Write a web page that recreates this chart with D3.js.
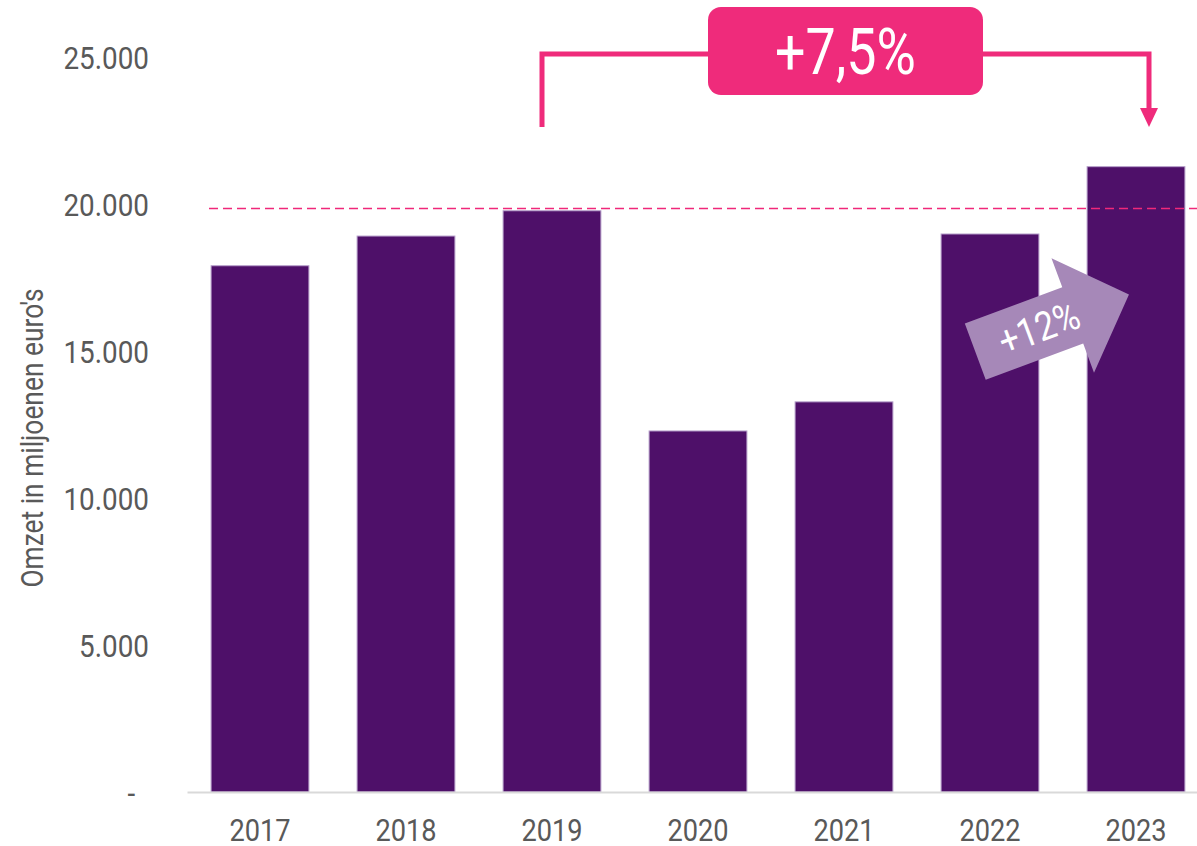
<!DOCTYPE html>
<html>
<head>
<meta charset="utf-8">
<script src="https://cdn.jsdelivr.net/npm/d3@7"></script>
<style>
  html, body { margin: 0; padding: 0; background: #fff; }
  svg { display: block; font-family: Roboto, "Noto Sans", sans-serif; }
</style>
</head>
<body>
<svg id="chart" width="1197" height="846"></svg>
<script>
// data
const years = ['2017', '2018', '2019', '2020', '2021', '2022', '2023'];
const omzet = [17900, 18910, 19770, 12280, 13270, 18980, 21270];
const yTicks = [0, 5000, 10000, 15000, 20000, 25000];
const refLevel = 19850;       // dashed line
const bracketLabel = '+7,5%'; // 2019 -> 2023
const arrowLabel = '+12%';    // 2022 -> 2023
const yTitle = "Omzet in miljoenen euro's";

const width = 1197,
	height = 846;

const nl = d3.formatLocale({ decimal: ',', thousands: '.', grouping: [3], currency: ['€', ''] });
const fmt = nl.format(',.0f');

const svg = d3.select('svg#chart');

const x = d3.scaleBand()
	.domain(years)
	.range([187, 1209])
	.paddingInner(0.33)
	.paddingOuter(0.165);

const y = d3.scaleLinear()
	.domain([0, 25000])
	.range([792, 57]);

// fake the condensed face: squeeze every text horizontally
function condense(sel, k) {
	sel.each(function() {
		const w = this.getComputedTextLength();
		if (w > 0)
			d3.select(this).attr('textLength', w * (k || 0.86)).attr('lengthAdjust', 'spacingAndGlyphs');
	});
}

// y axis, labels only
const yAxis = svg.append('g')
	.attr('transform', 'translate(149,0)')
	.call(d3.axisLeft(y).tickValues(yTicks).tickSize(0).tickPadding(0)
		.tickFormat(d => d === 0 ? '-  ' : fmt(d)));
yAxis.select('.domain').remove();
yAxis.selectAll('text')
	.attr('dy', '0.36em')
	.style('white-space', 'pre')
	.attr('font-family', 'Roboto')
	.attr('font-size', 32)
	.attr('fill', '#595959')
	.call(condense, 0.87);

// y title
svg.append('text')
	.attr('transform', 'translate(43,438) rotate(-90)')
	.attr('text-anchor', 'middle')
	.attr('font-size', 31)
	.attr('fill', '#595959')
	.text(yTitle)
	.call(condense, 0.85);

// bars
svg.append('g')
	.selectAll('rect')
	.data(years)
	.join('rect')
	.attr('x', d => x(d))
	.attr('y', (d, i) => y(omzet[i]))
	.attr('width', x.bandwidth())
	.attr('height', (d, i) => y(0) - y(omzet[i]))
	.attr('fill', '#4e1069')
	.attr('stroke', '#b7a0cb')
	.attr('stroke-width', 1);

// x axis
const xAxis = svg.append('g')
	.attr('transform', `translate(0,${y(0)})`)
	.call(d3.axisBottom(x).tickSize(0).tickPadding(26));
xAxis.select('.domain')
	.attr('stroke', '#d9d9d9')
	.attr('stroke-width', 2);
xAxis.selectAll('text')
	.attr('font-family', 'Roboto')
	.attr('font-size', 32)
	.attr('fill', '#595959')
	.call(condense, 0.85);

// dashed reference line
svg.append('line')
	.attr('x1', 209)
	.attr('x2', width)
	.attr('y1', y(refLevel))
	.attr('y2', y(refLevel))
	.attr('stroke', '#f0287a')
	.attr('stroke-width', 1.5)
	.attr('stroke-dasharray', '9,5');

// bracket 2019 -> 2023
const pink = '#ef2b7b';
const bx0 = x('2019') + x.bandwidth() / 2 - 10,
	bx1 = x('2023') + x.bandwidth() / 2 + 13,
	by = 54;

svg.append('path')
	.attr('d', `M${bx0},127 V${by} H${bx1} V110`)
	.attr('fill', 'none')
	.attr('stroke', pink)
	.attr('stroke-width', 5);
svg.append('path')
	.attr('d', `M${bx1 - 9},108 L${bx1 + 9},108 L${bx1},127 Z`)
	.attr('fill', pink);

const boxW = 275,
	boxH = 88,
	boxCx = (bx0 + bx1) / 2;
svg.append('rect')
	.attr('x', boxCx - boxW / 2)
	.attr('y', 7)
	.attr('width', boxW)
	.attr('height', boxH)
	.attr('rx', 13)
	.attr('fill', pink);
svg.append('text')
	.attr('x', boxCx)
	.attr('y', 74)
	.attr('text-anchor', 'middle')
	.attr('font-size', 64)
	.attr('fill', '#fff')
	.text(bracketLabel)
	.call(condense, 0.84);

// +12% arrow, drawn flat then rotated
const ax = x('2022') + x.bandwidth() / 2 + 49,
	ay = 328;
const arrow = svg.append('g')
	.attr('transform', `translate(${ax},${ay}) rotate(-20.4)`);
arrow.append('path')
	.attr('d', 'M-68,-30 L36,-30 L36,-61 L96,0 L36,61 L36,30 L-68,30 Z')
	.attr('fill', '#a688b8');
arrow.append('text')
	.attr('x', 0)
	.attr('y', 14)
	.attr('text-anchor', 'middle')
	.attr('font-size', 40)
	.attr('fill', '#fff')
	.text(arrowLabel)
	.call(condense, 0.86);
</script>
</body>
</html>
